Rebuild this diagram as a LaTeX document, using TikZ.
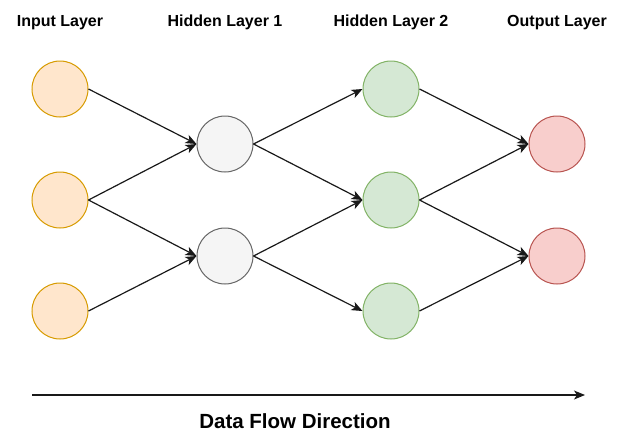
\documentclass[tikz,border=0pt]{standalone}
\usepackage{fontspec}
\setmainfont{Liberation Sans}
\usetikzlibrary{arrows.meta}
\definecolor{inF}{HTML}{FFE6CC}\definecolor{inD}{HTML}{D79B00}
\definecolor{hoF}{HTML}{F5F5F5}\definecolor{hoD}{HTML}{666666}
\definecolor{htF}{HTML}{D5E8D4}\definecolor{htD}{HTML}{82B366}
\definecolor{ouF}{HTML}{F8CECC}\definecolor{ouD}{HTML}{B85450}
\begin{document}
\begin{tikzpicture}[x=1pt,y=-1pt,
  neuron/.style={circle,minimum size=56pt,inner sep=0pt,line width=1pt},
  inn/.style={neuron,fill=inF,draw=inD},
  hone/.style={neuron,fill=hoF,draw=hoD},
  htwo/.style={neuron,fill=htF,draw=htD},
  outn/.style={neuron,fill=ouF,draw=ouD},
  conn/.style={line width=1.2pt,draw=black!90,-{Stealth[length=11pt,width=9pt,inset=3pt]}},
  layer/.style={font=\fontsize{16}{19}\selectfont\bfseries,anchor=base,inner sep=0pt}]
\useasboundingbox (0,0) rectangle (621,432);
\node[layer] (l1) at (60,26) {Input Layer};
\node[layer] (l2) at (225,26) {Hidden Layer 1};
\node[layer] (l3) at (391,26) {Hidden Layer 2};
\node[layer] (l4) at (557,26) {Output Layer};
\node[inn] (i1) at (60,89) {};
\node[inn] (i2) at (60,200) {};
\node[inn] (i3) at (60,311) {};
\node[hone] (a1) at (225,144) {};
\node[hone] (a2) at (225,256) {};
\node[htwo] (b1) at (391,89) {};
\node[htwo] (b2) at (391,200) {};
\node[htwo] (b3) at (391,311) {};
\node[outn] (o1) at (557,144) {};
\node[outn] (o2) at (557,256) {};
\draw[conn] (i1.east) -- (a1.west);
\draw[conn] (i2.east) -- (a1.west);
\draw[conn] (i2.east) -- (a2.west);
\draw[conn] (i3.east) -- (a2.west);
\draw[conn] (a1.east) -- (b1.west);
\draw[conn] (a1.east) -- (b2.west);
\draw[conn] (a2.east) -- (b2.west);
\draw[conn] (a2.east) -- (b3.west);
\draw[conn] (b1.east) -- (o1.west);
\draw[conn] (b2.east) -- (o1.west);
\draw[conn] (b2.east) -- (o2.west);
\draw[conn] (b3.east) -- (o2.west);
\coordinate (fs) at (32,395);
\coordinate (fe) at (585,395);
\draw[conn] (fs) -- (fe);
\node[font=\fontsize{20.5}{24}\selectfont\bfseries,anchor=base,inner sep=0pt] (df) at (295,428) {Data Flow Direction};
\end{tikzpicture}
\end{document}
